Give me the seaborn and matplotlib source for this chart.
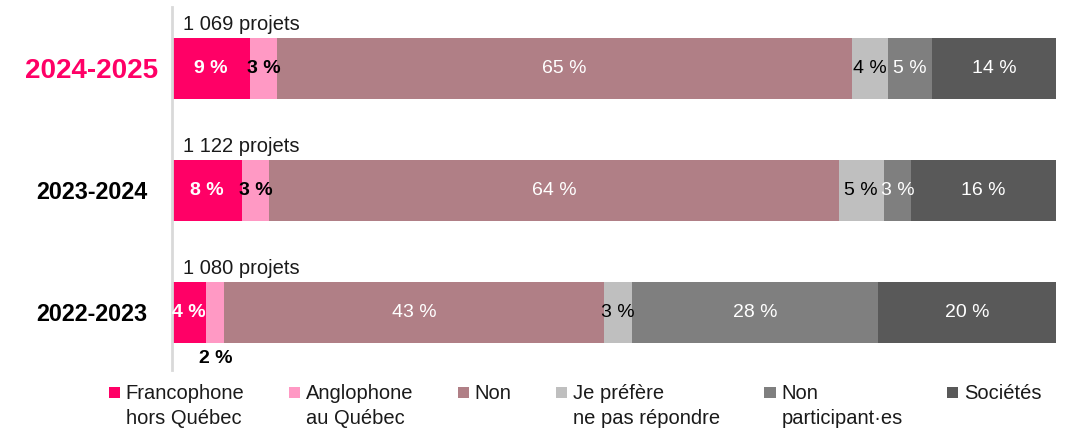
import numpy as np
import pandas as pd
import seaborn as sns
import matplotlib.pyplot as plt
from matplotlib.patches import Patch, Rectangle
from matplotlib.legend_handler import HandlerPatch


years = ["2024-2025", "2023-2024", "2022-2023"]
projects = ["1 069 projets", "1 122 projets", "1 080 projets"]
categories = ["Francophone\nhors Québec", "Anglophone\nau Québec", "Non",
              "Je préfère\nne pas répondre", "Non\nparticipant·es", "Sociétés"]

# share of projects (%) per category, one value per year
francophone = [8.8, 7.9, 3.9]
anglophone = [3.1, 3.1, 2.0]
non = [65.0, 64.4, 43.0]
no_answer = [4.1, 5.1, 3.1]
non_participant = [5.0, 3.1, 27.9]
societes = [14.0, 16.4, 20.1]

colors = ["#FF0066", "#FF99C4", "#B07F86", "#BFBFBF", "#7F7F7F", "#595959"]
text_colors = ["white", "black", "white", "black", "white", "white"]
text_weights = ["bold", "bold", "normal", "normal", "normal", "normal"]

series = [francophone, anglophone, non, no_answer, non_participant, societes]

sns.set_style("white")
plt.rcParams["font.family"] = ["Liberation Sans", "DejaVu Sans"]

df = pd.DataFrame(np.array(series).T, columns=categories)
df.insert(0, "year", years)
cum = df[categories].cumsum(axis=1)
cum.insert(0, "year", years)

fig, ax = plt.subplots(figsize=(10.71, 4.33), dpi=100)
fig.subplots_adjust(left=0.1606, right=0.986, bottom=0.1455, top=0.9838)

# stacked bars: draw cumulative totals from the last category back to the first
for cat, col in reversed(list(zip(categories, colors))):
    sns.barplot(data=cum, x=cat, y="year", orient="h", color=col,
                saturation=1, width=0.5, errorbar=None, linewidth=0, ax=ax)

# segment labels
for i, year in enumerate(years):
    left = 0
    for j, cat in enumerate(categories):
        v = df.loc[i, cat]
        xc = left + v / 2
        yc = i
        if year == "2022-2023" and j == 1:
            # too narrow, label sits under the bar
            yc = i + 0.38
            color = "black"
        else:
            color = text_colors[j]
        ax.text(xc, yc, f"{v:.0f} %", ha="center", va="center",
                color=color, fontsize=14, fontweight=text_weights[j])
        left += v
    ax.text(1.25, i - 0.355, projects[i], ha="left", va="center",
            fontsize=14.5, color="#1a1a1a")

ax.set_xlim(0, 100)
ax.set_ylim(2.475, -0.5)
ax.set_xlabel("")
ax.set_ylabel("")
ax.set_xticks([])
for s in ["top", "right", "bottom"]:
    ax.spines[s].set_visible(False)
ax.spines["left"].set_color("#D9D9D9")
ax.spines["left"].set_linewidth(2)
ax.tick_params(axis="y", length=0, pad=58)
for k, lbl in enumerate(ax.get_yticklabels()):
    lbl.set_fontweight("bold")
    lbl.set_ha("center")
    if k == 0:
        lbl.set_color("#FF0066")
        lbl.set_fontsize(20)
    else:
        lbl.set_color("black")
        lbl.set_fontsize(16.8)


def top_square(legend, orig_handle, xdescent, ydescent, width, height, fontsize):
    s = 0.55 * fontsize
    return Rectangle((-xdescent, -ydescent + height - s), s, s)


handles = [Patch(facecolor=c, edgecolor="none") for c in colors]
leg_labels = [c if "\n" in c else c + "\n " for c in categories]
leg = fig.legend(handles, leg_labels, loc="upper center", bbox_to_anchor=(0.537, 0.114),
                 ncol=6, frameon=False, fontsize=14.5, handlelength=0.55, handleheight=2.7,
                 handletextpad=0.3, columnspacing=2.2, borderpad=0, borderaxespad=0,
                 handler_map={Patch: HandlerPatch(patch_func=top_square)})
for t in leg.get_texts():
    t.set_linespacing(1.45)
    t.set_color("#1a1a1a")

plt.savefig("out.png", dpi=100)
